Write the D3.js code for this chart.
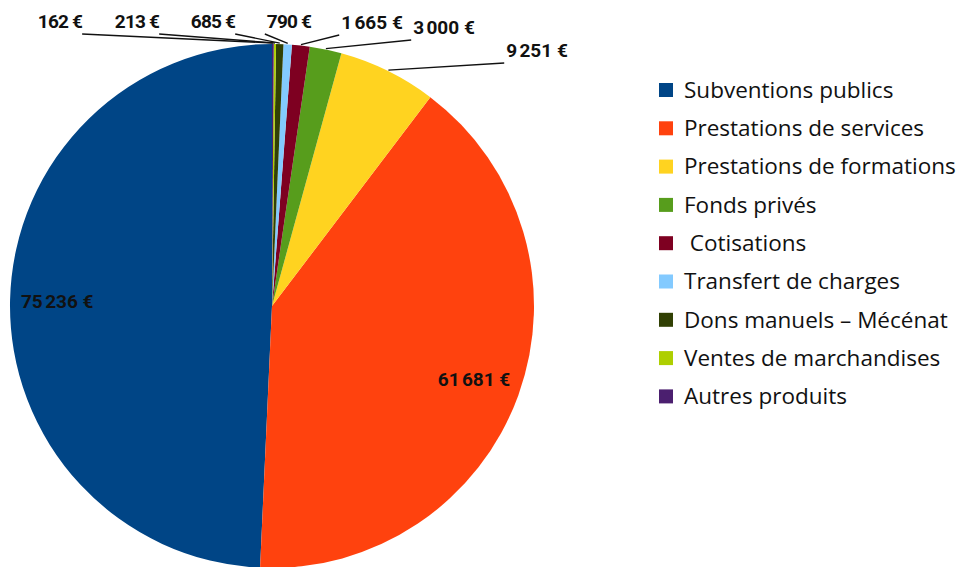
<!DOCTYPE html>
<html>
<head>
    <meta charset="utf-8">
    <title>Produits</title>
    <script src="https://d3js.org/d3.v7.min.js"></script>
    <style>
        body { margin: 0; background: #fff; }
        .val { font-family: "Roboto", sans-serif; font-weight: bold; font-size: 19px; letter-spacing: -0.8px; fill: #111; }
        .leg { font-family: "Open Sans", sans-serif; font-size: 22.5px; fill: #111; }
    </style>
</head>
<body>
    <svg id="chart" width="966" height="567"></svg>
    <script>
        // categories and values (legend order)
        const categories = ["Subventions publics", "Prestations de services", "Prestations de formations",
            "Fonds privés", " Cotisations", "Transfert de charges", "Dons manuels – Mécénat",
            "Ventes de marchandises", "Autres produits"];
        const values = [75236, 61681, 9251, 3000, 1665, 790, 685, 213, 162];
        const colors = ["#004586", "#ff420e", "#ffd320", "#579d1c", "#7e0021", "#83caff", "#314004", "#aecf00", "#4b1f6f"];

        // hand placed outside labels (index into values -> label centre / baseline)
        const outside = [
            { i: 2, x: 537, y: 57 },
            { i: 3, x: 444, y: 34 },
            { i: 4, x: 372, y: 29 },
            { i: 5, x: 289, y: 28 },
            { i: 6, x: 213, y: 28 },
            { i: 7, x: 137, y: 28 },
            { i: 8, x: 60, y: 28 }
        ];

        const svg = d3.select("#chart");
        const cx = 272, cy = 306, r = 262;

        const fmt = v => d3.format(",")(v).replace(/,/g, "\u202f") + " €";

        // counter-clockwise from 12 o'clock
        const pie = d3.pie().sort(null).startAngle(0).endAngle(-2 * Math.PI);
        const arcs = pie(values);
        const arc = d3.arc().innerRadius(0).outerRadius(r);

        const g = svg.append("g").attr("transform", `translate(${cx},${cy})`);

        g.selectAll("path")
            .data(arcs)
            .join("path")
            .attr("d", arc)
            .attr("fill", (d, i) => colors[i]);

        // inside labels for the two big slices
        const inner = d3.arc().innerRadius(r * 0.82).outerRadius(r * 0.82);
        g.selectAll("text.in")
            .data(arcs.slice(0, 2))
            .join("text")
            .attr("class", "val in")
            .attr("text-anchor", "middle")
            .attr("dominant-baseline", "central")
            .attr("transform", d => {
                const c = inner.centroid({ startAngle: d.startAngle, endAngle: d.endAngle });
                return `translate(${c[0]},${c[1]})`;
            })
            .text(d => fmt(d.value));

        // outside labels with leader lines
        outside.forEach(o => {
            const d = arcs[o.i];
            const mid = (d.startAngle + d.endAngle) / 2;
            const ex = cx + Math.sin(mid) * (r + 1), ey = cy - Math.cos(mid) * (r + 1);
            const t = svg.append("text")
                .attr("class", "val")
                .attr("x", o.x).attr("y", o.y)
                .attr("text-anchor", "middle")
                .text(fmt(d.value));
            const w = t.node().getComputedTextLength();
            const sx = o.x < ex ? o.x + w / 2 : o.x - w / 2 - 2;
            svg.append("line")
                .attr("x1", sx).attr("y1", o.y + 6)
                .attr("x2", ex).attr("y2", ey)
                .attr("stroke", "#111")
                .attr("stroke-width", 1.4);
        });

        // legend
        const legend = svg.append("g").attr("transform", "translate(659,90)");
        const rows = legend.selectAll("g")
            .data(categories)
            .join("g")
            .attr("transform", (d, i) => `translate(0,${i * 38.3})`);
        rows.append("rect")
            .attr("x", 0).attr("y", -7)
            .attr("width", 14).attr("height", 14)
            .attr("fill", (d, i) => colors[i]);
        rows.append("text")
            .attr("class", "leg")
            .attr("x", 25)
            .attr("dy", "0.35em")
            .style("white-space", "pre")
            .text(d => d);
    </script>
</body>
</html>
